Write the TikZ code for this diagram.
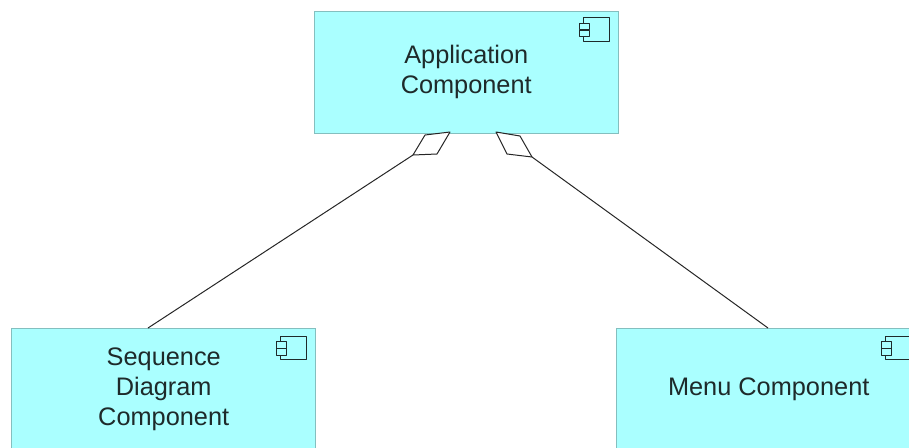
\documentclass[tikz,border=0pt]{standalone}
\usepackage{fontspec}
\setmainfont{Liberation Sans}
\definecolor{compfill}{HTML}{AAFFFF}
\definecolor{compline}{HTML}{84BFBF}
\definecolor{inkline}{HTML}{1E2A2A}
\tikzset{
  comp/.style={draw=compline,line width=1.1pt,fill=compfill,minimum width=228pt,minimum height=91.5pt,
    inner sep=0pt,align=center,text=inkline,font=\fontsize{19}{22.5}\selectfont,anchor=north west},
  link/.style={draw=black!85,line width=0.75pt,line join=round},
  iconpart/.style={draw=inkline,line width=0.75pt,fill=compfill,line join=round}
}
\newcommand{\compicon}[2]{%
  \draw[iconpart] (#1+4,#2) rectangle (#1+29.5,#2+23.5);
  \draw[iconpart] (#1,#2+5.5) rectangle (#1+10,#2+12);
  \draw[iconpart] (#1,#2+12.5) rectangle (#1+10,#2+19);
}
\begin{document}
\begin{tikzpicture}[x=0.75pt,y=-0.75pt]
\useasboundingbox (0,0) rectangle (909,447);
\clip (0,0) rectangle (909,447);
\node[comp] (app) at (313.5,10.5) {Application\\Component};
\node[comp] (seq) at (11,328) {Sequence\\Diagram\\Component};
\node[comp] (menu) at (616,328) {Menu Component};
\compicon{579.5}{17.5}
\compicon{276.5}{336}
\compicon{881.5}{336}
\coordinate (d1a) at (450,132);
\coordinate (d1b) at (425,135);
\coordinate (d1c) at (413,155);
\coordinate (d1d) at (437,154);
\coordinate (d2a) at (496,132);
\coordinate (d2b) at (520,136);
\coordinate (d2c) at (532,157);
\coordinate (d2d) at (507,154);
\coordinate (s1) at (148,328);
\coordinate (s2) at (768,328);
\draw[link] (s1) -- (d1c);
\draw[link] (s2) -- (d2c);
\draw[link,fill=white] (d1a) -- (d1b) -- (d1c) -- (d1d) -- cycle;
\draw[link,fill=white] (d2a) -- (d2b) -- (d2c) -- (d2d) -- cycle;
\end{tikzpicture}
\end{document}
